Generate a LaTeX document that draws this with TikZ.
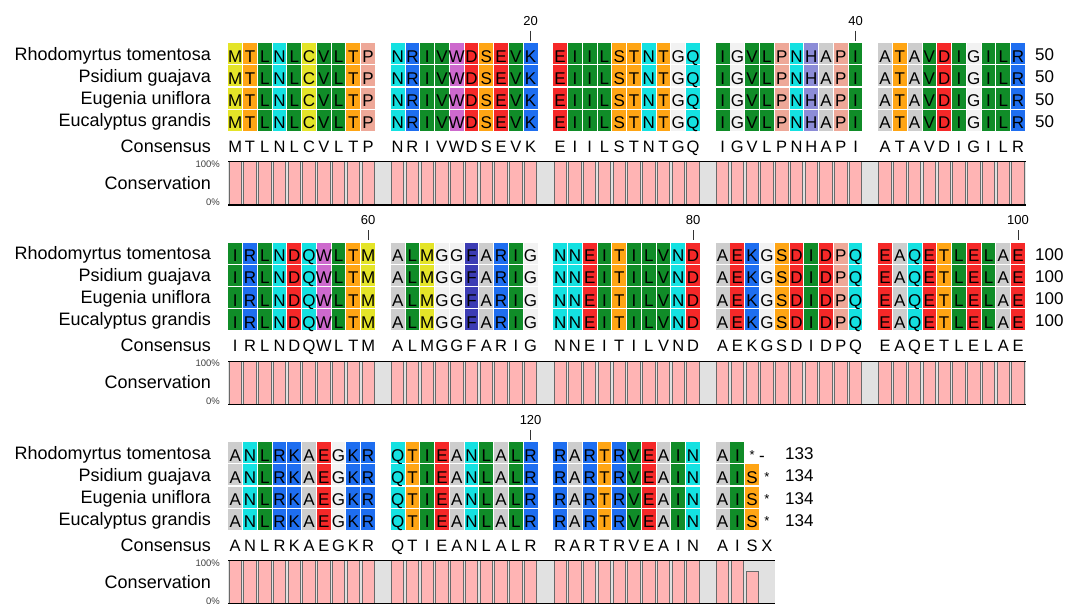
\documentclass[tikz,border=0pt]{standalone}
\usepackage{fontspec}
\setmainfont{Liberation Sans}
\definecolor{aaM}{RGB}{228,228,40}
\definecolor{aaC}{RGB}{228,228,40}
\definecolor{aaT}{RGB}{255,165,20}
\definecolor{aaS}{RGB}{255,165,20}
\definecolor{aaL}{RGB}{16,140,40}
\definecolor{aaI}{RGB}{16,140,40}
\definecolor{aaV}{RGB}{16,140,40}
\definecolor{aaN}{RGB}{20,225,225}
\definecolor{aaQ}{RGB}{20,225,225}
\definecolor{aaP}{RGB}{238,168,152}
\definecolor{aaR}{RGB}{30,110,240}
\definecolor{aaK}{RGB}{30,110,240}
\definecolor{aaW}{RGB}{205,105,205}
\definecolor{aaD}{RGB}{245,40,40}
\definecolor{aaE}{RGB}{245,40,40}
\definecolor{aaH}{RGB}{140,140,215}
\definecolor{aaA}{RGB}{205,205,205}
\definecolor{aaG}{RGB}{242,242,242}
\definecolor{aaF}{RGB}{60,60,180}
\definecolor{barpink}{RGB}{255,180,180}
\definecolor{bargray}{RGB}{105,105,105}
\definecolor{consbg}{RGB}{225,225,225}

\newcommand\alignblock[3]{% #1 top y, #2 block id, #3 letters
  \foreach \c [count=\i from 0] in {#3} {
    \pgfmathtruncatemacro\pos{\i+int(\i/10)}
    \pgfmathsetmacro\xl{228.3+\pos*14.77}
    \pgfmathsetmacro\xc{\xl+6.9}
    \foreach \r in {0,1,2,3} {
      \pgfmathsetmacro\yr{#1+\r*22.1}
      \fill[aa\c] (\xl,\yr) rectangle ++(13.8,21);
      \node[seq] (s#2-\r-\i) at (\xc,\yr+19) {\c};
    }
    \node[cons] (k#2-\i) at (\xc,#1+109) {\c};
    \fill[barpink,draw=bargray,line width=0.8pt] (\xl+0.7,#1+118.4) rectangle (\xl+13.1,#1+161.7);
  }
}

\begin{document}
\begin{tikzpicture}[x=1pt,y=-1pt,
  seq/.style={font=\fontsize{17}{17}\selectfont, anchor=base, inner sep=0pt},
  cons/.style={font=\fontsize{16.5}{16.5}\selectfont, anchor=base, inner sep=0pt},
  lbl/.style={font=\fontsize{18}{18}\selectfont, anchor=base east, inner sep=0pt},
  num/.style={font=\fontsize{17}{17}\selectfont, anchor=base west, inner sep=0pt},
  pct/.style={font=\fontsize{9.5}{9.5}\selectfont, anchor=base east, inner sep=0pt, text=black!75},
  posl/.style={font=\fontsize{13}{13}\selectfont, anchor=base, inner sep=0pt},
  tick/.style={line width=1pt, black!80},
  edge/.style={line width=1.2pt, black}]
\useasboundingbox (0,0) rectangle (1068,603);

% labels for each block
\foreach \ty [count=\b] in {43.3,242.8,442.3} {
  \foreach \n [count=\r from 0] in {Rhodomyrtus tomentosa, Psidium guajava, Eugenia uniflora, Eucalyptus grandis}
    \node[lbl] (name\b-\r) at (211,\ty+16.7+\r*22.1) {\n};
  \node[lbl] (consl\b) at (211,\ty+109) {Consensus};
  \node[lbl] (conl\b) at (211,\ty+145.7) {Conservation};
  \node[pct] (hi\b) at (220,\ty+124) {100\%};
  \node[pct] (lo\b) at (220,\ty+161.7) {0\%};
}

% conservation backgrounds
\fill[consbg] (228.3,161.7) rectangle (1025.9,205);
\fill[consbg] (228.3,361.2) rectangle (1025.9,404.5);
\fill[consbg] (228.3,560.7) rectangle (774.8,604);

% blocks
\alignblock{43.3}{1}{M,T,L,N,L,C,V,L,T,P,N,R,I,V,W,D,S,E,V,K,E,I,I,L,S,T,N,T,G,Q,I,G,V,L,P,N,H,A,P,I,A,T,A,V,D,I,G,I,L,R}
\alignblock{242.8}{2}{I,R,L,N,D,Q,W,L,T,M,A,L,M,G,G,F,A,R,I,G,N,N,E,I,T,I,L,V,N,D,A,E,K,G,S,D,I,D,P,Q,E,A,Q,E,T,L,E,L,A,E}
\alignblock{442.3}{3}{A,N,L,R,K,A,E,G,K,R,Q,T,I,E,A,N,L,A,L,R,R,A,R,T,R,V,E,A,I,N,A,I}

% block 3 tail (columns 35 and 36)
\pgfmathsetmacro\xs{228.3+35*14.77}
\pgfmathsetmacro\xx{228.3+36*14.77}
\node[seq, font=\fontsize{13}{13}\selectfont] (ast0) at (\xs+6.9,442.3+17) {*};
\node[seq] (dash0) at (762,442.3+19) {-};
\foreach \r in {1,2,3} {
  \pgfmathsetmacro\yr{442.3+\r*22.1}
  \fill[aaS] (\xs,\yr) rectangle ++(13.8,21);
  \node[seq] (s3-\r-S) at (\xs+6.9,\yr+19) {S};
  \node[seq, font=\fontsize{13}{13}\selectfont] (ast\r) at (\xx+6.9,\yr+17) {*};
}
\node[cons] (k3-S) at (\xs+6.9,442.3+109) {S};
\node[cons] (k3-X) at (\xx+6.9,442.3+109) {X};
\fill[barpink,draw=bargray,line width=0.8pt] (\xs+0.7,604-0.75*43.3) rectangle (\xs+13.1,604);

% conservation frame lines
\draw[edge] (228.3,161.7) -- (1025.9,161.7);
\draw[edge] (228.3,205) -- (1025.9,205);
\draw[edge] (228.3,361.2) -- (1025.9,361.2);
\draw[edge] (228.3,404.5) -- (1025.9,404.5);
\draw[edge] (228.3,560.7) -- (774.8,560.7);
\draw[edge] (228.3,604) -- (774.8,604);

% end numbers
\foreach \r in {0,1,2,3} {
  \node[num] (e1-\r) at (1035,43.3+17.5+\r*22.1) {50};
  \node[num] (e2-\r) at (1035,242.8+17.5+\r*22.1) {100};
}
\node[num] (e3-0) at (785,442.3+17.5) {133};
\foreach \r in {1,2,3}
  \node[num] (e3-\r) at (785,442.3+17.5+\r*22.1) {134};

% position ticks
\foreach \ty/\p/\lab in {43.3/20/20, 43.3/42/40, 242.8/9/60, 242.8/31/80, 242.8/53/100, 442.3/20/120} {
  \pgfmathsetmacro\xt{228.3+\p*14.77+6.9}
  \node[posl] (pl\lab) at (\xt,\ty-18.3) {\lab};
  \draw[tick] (\xt,\ty-12.6) -- (\xt,\ty-2.6);
}
\end{tikzpicture}
\end{document}
